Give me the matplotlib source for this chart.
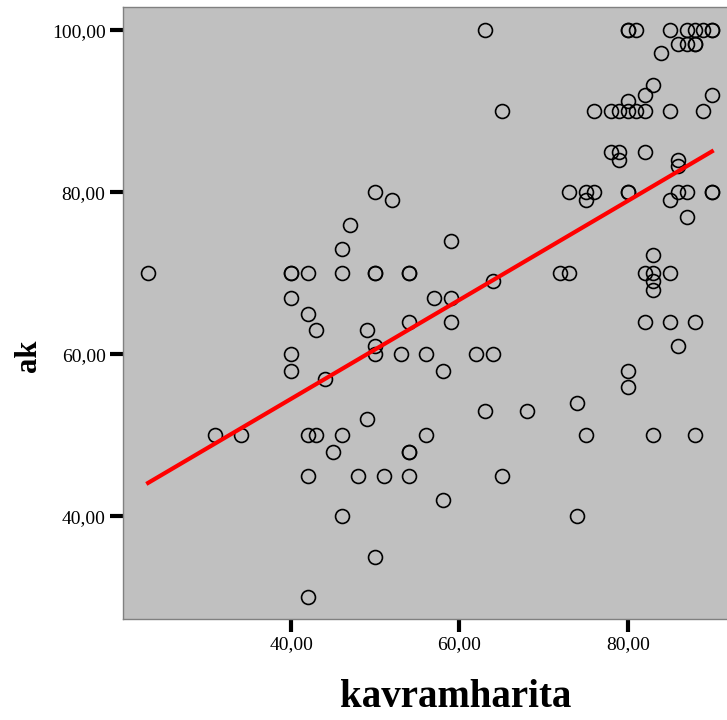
import numpy as np
import matplotlib.pyplot as plt

# kavramharita (x) ve ak (y) değerleri
kavramharita = [23, 40, 40, 42, 46, 50, 50, 54, 54, 50, 52, 47, 46, 40, 42, 43, 49, 50, 50, 53,
                56, 54, 40, 40, 44, 31, 34, 42, 43, 46, 49, 45, 54, 54, 42, 48, 51, 54, 46, 50,
                42, 63, 80, 80, 81, 85, 87, 88, 89, 90, 90, 86, 87, 88, 88, 84, 83, 82, 90, 65,
                76, 78, 79, 80, 81, 82, 85, 89, 80, 78, 79, 82, 79, 86, 86, 73, 75, 76, 80, 80,
                86, 87, 90, 90, 75, 85, 87, 59, 72, 73, 82, 83, 85, 83, 83, 83, 64, 57, 59, 59,
                82, 85, 88, 86, 62, 64, 58, 80, 80, 63, 68, 74, 56, 75, 83, 88, 65, 58, 74]
ak = [70, 70, 70, 70, 70, 70, 70, 70, 70, 80, 79, 76, 73, 67, 65, 63, 63, 61, 60, 60,
      60, 64, 60, 58, 57, 50, 50, 50, 50, 50, 52, 48, 48, 48, 45, 45, 45, 45, 40, 35,
      30, 100, 100, 100, 100, 100, 100, 100, 100, 100, 100, 98.3, 98.3, 98.3, 98.3, 97.2, 93.2, 92, 92, 90,
      90, 90, 90, 90, 90, 90, 90, 90, 91.3, 85, 85, 85, 84, 84, 83.2, 80, 80, 80, 80, 80,
      80, 80, 80, 80, 79, 79, 77, 74, 70, 70, 70, 70, 70, 72.2, 69, 68, 69, 67, 67, 64,
      64, 64, 64, 61, 60, 60, 58, 58, 56, 53, 53, 54, 50, 50, 50, 50, 45, 42, 40]

x = np.array(kavramharita, dtype=float)
y = np.array(ak, dtype=float)

# doğrusal uyum çizgisi
b, a = np.polyfit(x, y, 1)
xs = np.linspace(x.min(), x.max(), 100)

fig = plt.figure(figsize=(7.27, 7.2), dpi=100)
ax = fig.add_axes([0.169, 0.14, 0.831, 0.85])
ax.set_facecolor('#c0c0c0')

ax.plot(x, y, 'o', ms=10, mfc='none', mec='black', mew=1.2, zorder=2)
ax.plot(xs, a + b * xs, color='red', lw=3, zorder=3)

ax.set_xlim(20, 91.8)
ax.set_ylim(27.3, 102.85)
ax.set_xticks([40, 60, 80])
ax.set_xticklabels(['40,00', '60,00', '80,00'])
ax.set_yticks([40, 60, 80, 100])
ax.set_yticklabels(['40,00', '60,00', '80,00', '100,00'])

for s in ax.spines.values():
    s.set_color('#808080')
    s.set_linewidth(1.0)
ax.spines['right'].set_visible(False)

ax.tick_params(length=9.5, width=3, color='black', labelsize=14, pad=3)
for lab in ax.get_xticklabels() + ax.get_yticklabels():
    lab.set_family('Liberation Serif')

ax.set_xlabel('kavramharita', family='Liberation Serif', fontsize=28, fontweight='bold')
ax.xaxis.set_label_coords(0.551, -0.098)
ax.set_ylabel('ak', family='Liberation Serif', fontsize=22, fontweight='bold')
ax.yaxis.set_label_coords(-0.157, 0.431)
ax.yaxis.label.set_va('center')

fig.savefig('out.png', dpi=100)
